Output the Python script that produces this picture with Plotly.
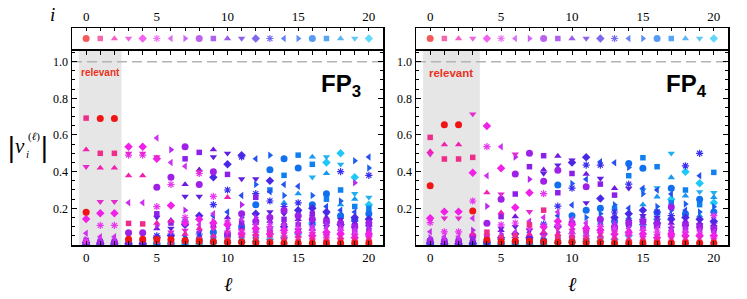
import plotly.graph_objects as go

W, H = 747, 299

# ---------------- data ----------------
ells = list(range(21))          # ℓ = 0..20
idx = list(range(21))           # i = 0..20
ell_tick_vals = [0, 5, 10, 15, 20]
ell_tick_text = ["0", "5", "10", "15", "20"]
y_tick_vals = [0.2, 0.4, 0.6, 0.8, 1.0]
y_tick_text = ["0.2", "0.4", "0.6", "0.8", "1.0"]
y_minor_vals = [0.05, 0.1, 0.15, 0.25, 0.3, 0.35, 0.45, 0.5, 0.55,
                0.65, 0.7, 0.75, 0.85, 0.9, 0.95, 1.05]

# FP3: |v_i^(ℓ)| per column ℓ, listed for i = 0..20
fp3_l0 = [0.178, 0.692, 0.52, 0.427, 0.142, 0.02, 0.064, 0.03, 0.015, 0.025, 0.01, 0.008, 0.012, 0.005, 0.006, 0.004, 0.003, 0.004, 0.002, 0.003, 0.002]
fp3_l1 = [0.69, 0.50, 0.42, 0.236, 0.173, 0.107, 0.045, 0.025, 0.015, 0.02, 0.01, 0.008, 0.01, 0.005, 0.006, 0.004, 0.003, 0.004, 0.002, 0.003, 0.002]
fp3_l2 = [0.69, 0.50, 0.42, 0.236, 0.173, 0.107, 0.045, 0.025, 0.015, 0.02, 0.01, 0.008, 0.01, 0.005, 0.006, 0.004, 0.003, 0.004, 0.002, 0.003, 0.002]
fp3_l3 = [0.031, 0.118, 0.378, 0.50, 0.536, 0.49, 0.231, 0.02, 0.067, 0.025, 0.01, 0.015, 0.008, 0.01, 0.005, 0.006, 0.004, 0.003, 0.002, 0.003, 0.002]
fp3_l4 = [0.031, 0.115, 0.378, 0.50, 0.536, 0.49, 0.231, 0.02, 0.067, 0.025, 0.01, 0.015, 0.008, 0.01, 0.005, 0.006, 0.004, 0.003, 0.002, 0.003, 0.002]
fp3_l5 = [0.03, 0.02, 0.12, 0.48, 0.47, 0.209, 0.583, 0.105, 0.315, 0.17, 0.09, 0.15, 0.04, 0.05, 0.02, 0.03, 0.01, 0.012, 0.006, 0.008, 0.005]
fp3_l6 = [0.03, 0.015, 0.13, 0.07, 0.215, 0.33, 0.45, 0.52, 0.37, 0.12, 0.135, 0.09, 0.05, 0.06, 0.03, 0.02, 0.012, 0.01, 0.008, 0.006, 0.005]
fp3_l7 = [0.025, 0.02, 0.06, 0.08, 0.12, 0.15, 0.43, 0.19, 0.536, 0.47, 0.33, 0.265, 0.11, 0.13, 0.05, 0.04, 0.02, 0.015, 0.01, 0.008, 0.006]
fp3_l8 = [0.02, 0.03, 0.09, 0.40, 0.14, 0.39, 0.11, 0.08, 0.33, 0.505, 0.41, 0.265, 0.16, 0.06, 0.07, 0.05, 0.03, 0.02, 0.012, 0.01, 0.008]
fp3_l9 = [0.018, 0.02, 0.05, 0.09, 0.12, 0.265, 0.17, 0.13, 0.40, 0.11, 0.52, 0.48, 0.37, 0.22, 0.16, 0.08, 0.07, 0.04, 0.02, 0.015, 0.01]
fp3_l10 = [0.015, 0.03, 0.26, 0.07, 0.11, 0.12, 0.13, 0.09, 0.06, 0.385, 0.15, 0.50, 0.44, 0.30, 0.18, 0.10, 0.05, 0.04, 0.03, 0.02, 0.012]
fp3_l11 = [0.015, 0.02, 0.05, 0.08, 0.06, 0.07, 0.14, 0.22, 0.17, 0.12, 0.09, 0.36, 0.49, 0.48, 0.27, 0.15, 0.10, 0.05, 0.03, 0.02, 0.015]
fp3_l12 = [0.012, 0.03, 0.06, 0.05, 0.09, 0.07, 0.11, 0.15, 0.13, 0.26, 0.12, 0.36, 0.17, 0.28, 0.47, 0.33, 0.22, 0.08, 0.05, 0.03, 0.02]
fp3_l13 = [0.012, 0.02, 0.05, 0.07, 0.06, 0.10, 0.09, 0.12, 0.15, 0.08, 0.13, 0.18, 0.35, 0.24, 0.29, 0.49, 0.41, 0.30, 0.10, 0.05, 0.03]
fp3_l14 = [0.01, 0.03, 0.04, 0.06, 0.08, 0.05, 0.11, 0.09, 0.19, 0.14, 0.12, 0.17, 0.10, 0.21, 0.33, 0.27, 0.47, 0.38, 0.23, 0.08, 0.04]
fp3_l15 = [0.01, 0.02, 0.05, 0.04, 0.07, 0.09, 0.06, 0.12, 0.16, 0.11, 0.14, 0.08, 0.19, 0.23, 0.32, 0.18, 0.42, 0.49, 0.28, 0.15, 0.06]
fp3_l16 = [0.01, 0.02, 0.04, 0.06, 0.05, 0.08, 0.10, 0.07, 0.14, 0.17, 0.09, 0.13, 0.20, 0.11, 0.16, 0.27, 0.22, 0.44, 0.48, 0.37, 0.12]
fp3_l17 = [0.01, 0.02, 0.03, 0.05, 0.07, 0.04, 0.09, 0.11, 0.13, 0.06, 0.15, 0.10, 0.18, 0.12, 0.21, 0.17, 0.28, 0.25, 0.39, 0.48, 0.45]
fp3_l18 = [0.01, 0.02, 0.04, 0.03, 0.06, 0.08, 0.05, 0.10, 0.12, 0.09, 0.07, 0.14, 0.11, 0.40, 0.19, 0.24, 0.16, 0.30, 0.22, 0.44, 0.50]
fp3_l19 = [0.01, 0.02, 0.03, 0.05, 0.04, 0.06, 0.08, 0.34, 0.10, 0.07, 0.12, 0.09, 0.15, 0.13, 0.18, 0.46, 0.14, 0.21, 0.25, 0.28, 0.37]
fp3_l20 = [0.01, 0.02, 0.03, 0.04, 0.06, 0.05, 0.07, 0.09, 0.12, 0.08, 0.11, 0.10, 0.14, 0.38, 0.48, 0.42, 0.17, 0.20, 0.15, 0.26, 0.22]

# FP4: |v_i^(ℓ)| per column ℓ, listed for i = 0..20
fp4_l0 = [0.323, 0.587, 0.51, 0.495, 0.146, 0.122, 0.072, 0.04, 0.025, 0.02, 0.015, 0.01, 0.012, 0.008, 0.006, 0.005, 0.004, 0.003, 0.003, 0.002, 0.002]
fp4_l1 = [0.656, 0.469, 0.547, 0.146, 0.182, 0.072, 0.045, 0.03, 0.02, 0.025, 0.012, 0.01, 0.008, 0.006, 0.005, 0.004, 0.003, 0.003, 0.002, 0.002, 0.002]
fp4_l2 = [0.656, 0.469, 0.547, 0.146, 0.182, 0.072, 0.045, 0.03, 0.02, 0.025, 0.012, 0.01, 0.008, 0.006, 0.005, 0.004, 0.003, 0.003, 0.002, 0.002, 0.002]
fp4_l3 = [0.185, 0.478, 0.06, 0.714, 0.394, 0.24, 0.146, 0.08, 0.049, 0.03, 0.02, 0.015, 0.01, 0.008, 0.006, 0.005, 0.004, 0.003, 0.003, 0.002, 0.002]
fp4_l4 = [0.027, 0.07, 0.285, 0.05, 0.649, 0.536, 0.378, 0.212, 0.118, 0.04, 0.03, 0.02, 0.015, 0.01, 0.008, 0.006, 0.005, 0.004, 0.003, 0.003, 0.002]
fp4_l5 = [0.018, 0.04, 0.176, 0.278, 0.418, 0.11, 0.536, 0.06, 0.25, 0.155, 0.08, 0.09, 0.04, 0.03, 0.02, 0.015, 0.01, 0.008, 0.006, 0.005, 0.004]
fp4_l6 = [0.02, 0.05, 0.03, 0.496, 0.205, 0.12, 0.07, 0.48, 0.387, 0.278, 0.155, 0.1, 0.06, 0.04, 0.03, 0.02, 0.015, 0.01, 0.008, 0.006, 0.005]
fp4_l7 = [0.02, 0.11, 0.06, 0.182, 0.285, 0.09, 0.13, 0.358, 0.5, 0.427, 0.05, 0.08, 0.04, 0.03, 0.07, 0.02, 0.015, 0.012, 0.01, 0.008, 0.006]
fp4_l8 = [0.018, 0.19, 0.07, 0.05, 0.1, 0.28, 0.15, 0.09, 0.348, 0.487, 0.41, 0.39, 0.06, 0.114, 0.04, 0.03, 0.025, 0.015, 0.01, 0.008, 0.006]
fp4_l9 = [0.015, 0.04, 0.06, 0.09, 0.13, 0.11, 0.18, 0.07, 0.408, 0.285, 0.485, 0.436, 0.1, 0.212, 0.16, 0.05, 0.327, 0.03, 0.02, 0.015, 0.01]
fp4_l10 = [0.015, 0.03, 0.05, 0.08, 0.11, 0.06, 0.14, 0.09, 0.12, 0.39, 0.07, 0.463, 0.45, 0.31, 0.218, 0.336, 0.16, 0.04, 0.03, 0.02, 0.015]
fp4_l11 = [0.012, 0.03, 0.04, 0.07, 0.09, 0.05, 0.12, 0.1, 0.318, 0.08, 0.387, 0.23, 0.478, 0.436, 0.358, 0.15, 0.19, 0.06, 0.04, 0.025, 0.02]
fp4_l12 = [0.012, 0.025, 0.05, 0.06, 0.08, 0.1, 0.07, 0.11, 0.14, 0.332, 0.09, 0.363, 0.254, 0.436, 0.454, 0.17, 0.2, 0.12, 0.05, 0.03, 0.02]
fp4_l13 = [0.01, 0.02, 0.04, 0.07, 0.06, 0.09, 0.05, 0.12, 0.1, 0.272, 0.309, 0.08, 0.15, 0.18, 0.449, 0.22, 0.13, 0.2, 0.11, 0.05, 0.03]
fp4_l14 = [0.01, 0.02, 0.03, 0.05, 0.07, 0.06, 0.09, 0.08, 0.12, 0.11, 0.14, 0.309, 0.17, 0.332, 0.2, 0.423, 0.445, 0.378, 0.15, 0.1, 0.05]
fp4_l15 = [0.01, 0.02, 0.03, 0.04, 0.06, 0.08, 0.05, 0.1, 0.13, 0.09, 0.12, 0.16, 0.19, 0.14, 0.31, 0.28, 0.418, 0.476, 0.22, 0.3, 0.11]
fp4_l16 = [0.01, 0.015, 0.03, 0.05, 0.04, 0.07, 0.09, 0.06, 0.11, 0.13, 0.1, 0.15, 0.12, 0.18, 0.3, 0.21, 0.177, 0.427, 0.263, 0.312, 0.14]
fp4_l17 = [0.01, 0.015, 0.025, 0.04, 0.06, 0.05, 0.08, 0.1, 0.207, 0.07, 0.12, 0.09, 0.14, 0.16, 0.278, 0.19, 0.309, 0.23, 0.368, 0.5, 0.25]
fp4_l18 = [0.01, 0.015, 0.03, 0.04, 0.05, 0.07, 0.06, 0.09, 0.11, 0.08, 0.13, 0.1, 0.15, 0.432, 0.19, 0.223, 0.17, 0.3, 0.268, 0.16, 0.4]
fp4_l19 = [0.01, 0.015, 0.02, 0.04, 0.05, 0.06, 0.08, 0.07, 0.1, 0.09, 0.12, 0.11, 0.14, 0.5, 0.378, 0.18, 0.25, 0.22, 0.16, 0.29, 0.337]
fp4_l20 = [0.01, 0.015, 0.02, 0.03, 0.05, 0.16, 0.07, 0.06, 0.09, 0.08, 0.11, 0.1, 0.13, 0.12, 0.15, 0.208, 0.18, 0.396, 0.26, 0.285, 0.23]

fp3_cols = [fp3_l0, fp3_l1, fp3_l2, fp3_l3, fp3_l4, fp3_l5, fp3_l6, fp3_l7, fp3_l8, fp3_l9, fp3_l10,
            fp3_l11, fp3_l12, fp3_l13, fp3_l14, fp3_l15, fp3_l16, fp3_l17, fp3_l18, fp3_l19, fp3_l20]
fp4_cols = [fp4_l0, fp4_l1, fp4_l2, fp4_l3, fp4_l4, fp4_l5, fp4_l6, fp4_l7, fp4_l8, fp4_l9, fp4_l10,
            fp4_l11, fp4_l12, fp4_l13, fp4_l14, fp4_l15, fp4_l16, fp4_l17, fp4_l18, fp4_l19, fp4_l20]

# ---------------- styles ----------------
colors = ["#f01414", "#ee2c8a", "#f020b0", "#e628d0", "#f020e8", "#e838f0", "#d030f0",
          "#b828f0", "#a020e8", "#8c20e8", "#7418e0", "#6020e0", "#4a28e8", "#3a30f0",
          "#2850f0", "#1c60f0", "#1070f0", "#1080f0", "#1898f0", "#20b0f0", "#20c8f8"]
base_symbols = ["circle", "square", "triangle-up", "triangle-down", "diamond",
                "asterisk-open", "triangle-left", "triangle-right"]
sym_size = {"circle": 7, "square": 5.5, "triangle-up": 6.5, "triangle-down": 6.5,
            "diamond": 6.5, "asterisk-open": 6, "triangle-left": 6.5, "triangle-right": 6.5}
symbols = [base_symbols[i % 8] for i in idx]

SERIF = "Liberation Serif"
SANS = "Liberation Sans"


def xp(px):
    return px / W


def yp(py):
    return 1 - py / H


fig = go.Figure()

panels = [
    dict(cols=fp3_cols, xa="x", ya="y", xs="x2", ys="y2", xl=72, xr=383, shade=2.5,
         sub="3", lab_r=363, ell_x=228, rel_size=10),
    dict(cols=fp4_cols, xa="x3", ya="y3", xs="x4", ys="y4", xl=416, xr=728, shade=3.5,
         sub="4", lab_r=709, ell_x=572, rel_size=11.5),
]

main_dom_y = [yp(245), yp(51)]
strip_dom_y = [yp(49), yp(28)]


def marker_for(i):
    s = symbols[i]
    return dict(symbol=s, size=sym_size[s], color=colors[i],
                line=dict(color=colors[i], width=1.2 if s == "asterisk-open" else 0))


annotations = []
shapes = []
for k, p in enumerate(panels):
    # data traces (i = 20 first so i = 0 ends on top)
    for i in reversed(idx):
        vals = [col[i] for col in p["cols"]]
        fig.add_trace(go.Scatter(x=ells, y=vals, mode="markers", xaxis=p["xa"], yaxis=p["ya"],
                                 marker=marker_for(i), showlegend=False, hoverinfo="skip"))
    # legend strip (marker key by i)
    fig.add_trace(go.Scatter(x=idx, y=[0.5] * len(idx), mode="markers",
                             xaxis=p["xs"], yaxis=p["ys"],
                             marker=dict(symbol=symbols, size=[sym_size[s] for s in symbols],
                                         color=colors,
                                         line=dict(color=colors,
                                                   width=[1.2 if s == "asterisk-open" else 0
                                                          for s in symbols])),
                             showlegend=False, hoverinfo="skip"))

    dom_x = [xp(p["xl"]), xp(p["xr"])]
    n = "" if k == 0 else "3"
    ns = "2" if k == 0 else "4"
    common_x = dict(domain=dom_x, range=[-1, 21], tickvals=ell_tick_vals, ticktext=ell_tick_text,
                    ticks="inside", tickcolor="black", tickwidth=1, showline=True,
                    linecolor="black", linewidth=1.5, showgrid=False, zeroline=False,
                    tickfont=dict(family=SERIF, size=13, color="black"), fixedrange=True)
    fig.update_layout(**{
        "xaxis" + n: dict(common_x, anchor="y" + n, ticklen=4, mirror="ticks",
                          minor=dict(ticks="inside", ticklen=4, tickcolor="black",
                                     tickvals=ells, showgrid=False)),
        "yaxis" + n: dict(domain=main_dom_y, range=[0, 1.058], anchor="x" + n,
                          tickvals=y_tick_vals, ticktext=y_tick_text, ticks="inside",
                          ticklen=5, tickwidth=1, tickcolor="black",
                          minor=dict(ticks="inside", ticklen=3, tickcolor="black",
                                     tickvals=y_minor_vals, showgrid=False),
                          showline=True, linecolor="black", linewidth=1.5, mirror="ticks",
                          showgrid=False, zeroline=False,
                          tickfont=dict(family=SERIF, size=12, color="black"), fixedrange=True),
        "xaxis" + ns: dict(common_x, anchor="y" + ns, side="top", ticklen=3, mirror=True,
                           minor=dict(ticks="inside", ticklen=3, tickcolor="black",
                                      tickvals=ells, showgrid=False)),
        "yaxis" + ns: dict(domain=strip_dom_y, range=[0, 1], anchor="x" + ns,
                           showticklabels=False, ticks="", showline=True, linecolor="black",
                           linewidth=1.5, mirror=True, showgrid=False, zeroline=False,
                           fixedrange=True),
    })

    # shaded "relevant" band and the dashed unit line
    shapes.append(dict(type="rect", xref=p["xa"], yref=p["ya"] + " domain",
                       x0=-0.5, x1=p["shade"], y0=0, y1=1, fillcolor="#e6e6e6",
                       line=dict(width=0), layer="below"))
    shapes.append(dict(type="line", xref=p["xa"] + " domain", yref=p["ya"],
                       x0=0, x1=1, y0=1, y1=1,
                       line=dict(color="#b4b4b4", width=1.5, dash="10px,5px"), layer="below"))
    annotations.append(dict(xref=p["xa"], yref=p["ya"], x=(p["shade"] - 0.5) / 2, y=0.94,
                            xanchor="center", yanchor="middle",
                            text="<b>relevant</b>", showarrow=False,
                            font=dict(family=SANS, size=p["rel_size"], color="#e8321e")))
    annotations.append(dict(xref="paper", yref="paper", x=xp(p["lab_r"]), y=yp(85),
                            xanchor="right", yanchor="middle",
                            text="<b>FP<sub>" + p["sub"] + "</sub></b>", showarrow=False,
                            font=dict(family=SANS, size=24, color="black")))
    annotations.append(dict(xref="paper", yref="paper", x=xp(p["ell_x"]), y=yp(284),
                            xanchor="center", yanchor="middle",
                            text="<i>ℓ</i>", showarrow=False,
                            font=dict(family=SERIF, size=20, color="black")))

# "i" label for the strip
annotations.append(dict(xref="paper", yref="paper", x=xp(53), y=yp(15), text="<i>i</i>",
                        xanchor="center", yanchor="middle", showarrow=False,
                        font=dict(family=SERIF, size=19, color="black")))
# y label |v_i^(ℓ)|
ylab_parts = [
    ("|", 11.5, 147, 26, "DejaVu Sans"),
    ("<i>v</i>", 20, 146, 21, SERIF),
    ("(<i>ℓ</i>)", 33.5, 137, 11, SERIF),
    ("<i>i</i>", 27, 154, 11, SERIF),
    ("|", 44.5, 147, 26, "DejaVu Sans"),
]
for txt, px, py, sz, fam in ylab_parts:
    annotations.append(dict(xref="paper", yref="paper", x=xp(px), y=yp(py), text=txt,
                            xanchor="center", yanchor="middle", showarrow=False,
                            font=dict(family=fam, size=sz, color="black")))

fig.update_layout(width=W, height=H, margin=dict(l=0, r=0, t=0, b=0),
                  paper_bgcolor="white", plot_bgcolor="white", showlegend=False,
                  annotations=annotations, shapes=shapes)

# remove the browser's default 8px page margin so the figure fills the window exactly
fig.write_html("out.html", config={"displayModeBar": False, "staticPlot": True},
               post_script="document.body.style.margin='0';")
